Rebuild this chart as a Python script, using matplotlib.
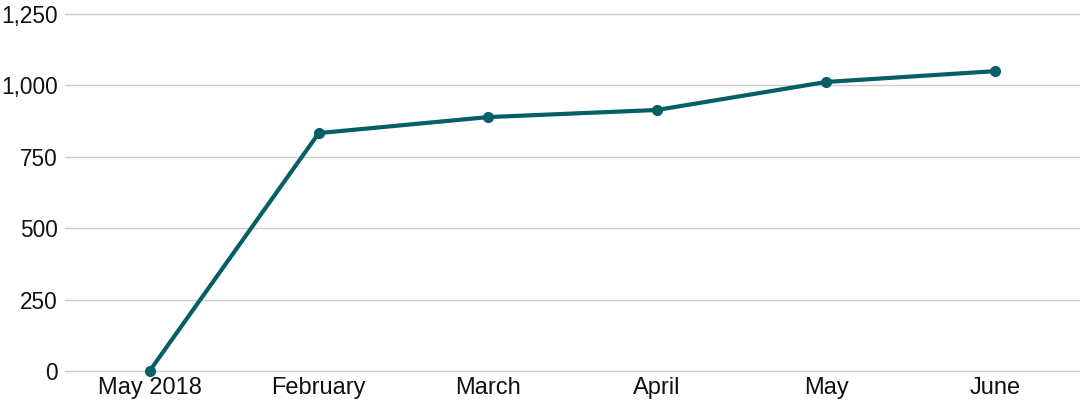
import matplotlib as mpl
mpl.use('agg')
import matplotlib.pyplot as plt
from matplotlib.ticker import FuncFormatter

months = ['May 2018', 'February', 'March', 'April', 'May', 'June']
values = [0, 833, 889, 914, 1012, 1050]
yticks = [0, 250, 500, 750, 1000, 1250]

plt.rcParams['font.family'] = ['Liberation Sans', 'DejaVu Sans']

fig = plt.figure(figsize=(10.8, 4.0), dpi=100)
ax = fig.add_axes([65 / 1080, 1 - 371 / 400, 1 - 65 / 1080, 357 / 400])

x = list(range(len(months)))
ax.plot(x, values, color='#075f66', lw=3.0, marker='o', ms=7,
        solid_joinstyle='round', zorder=3, clip_on=False)

ax.set_xlim(-0.5, 5.5)
ax.set_ylim(0, 1250)
ax.set_yticks(yticks)
ax.yaxis.set_major_formatter(FuncFormatter(lambda v, p: f'{int(v):,}'))
ax.set_xticks(x)
ax.set_xticklabels(months)
ax.grid(axis='y', color='#cccccc', lw=1.0)
for gl in ax.get_ygridlines():
    gl.set_clip_on(False)
ax.set_axisbelow(True)
for s in ax.spines.values():
    s.set_visible(False)
ax.tick_params(axis='both', length=0, colors='#111111')
ax.tick_params(axis='y', pad=5, labelsize=16.3)
ax.tick_params(axis='x', pad=4, labelsize=17)

plt.savefig('out.png', dpi=100)
